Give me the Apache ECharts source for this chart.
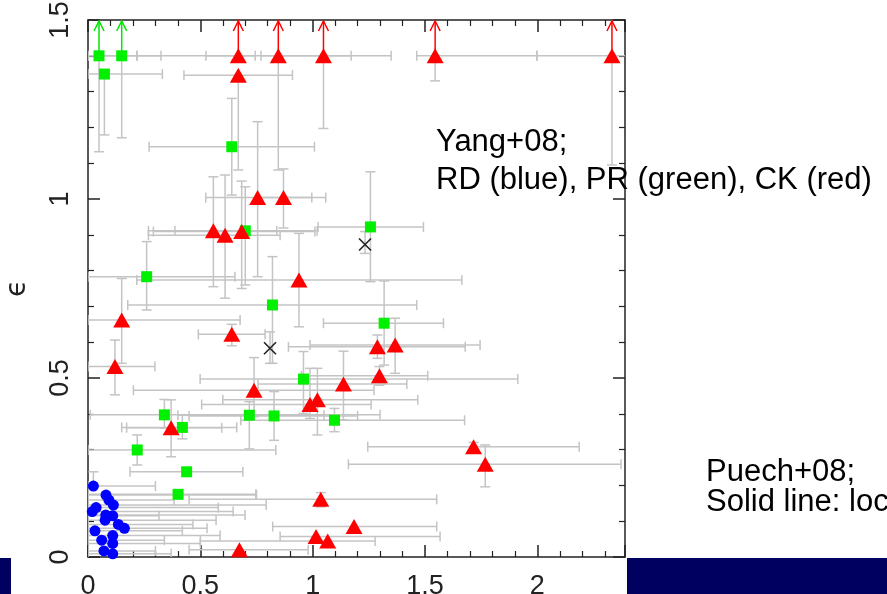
<!DOCTYPE html>
<html>
<head>
<meta charset="utf-8">
<script src="https://cdn.jsdelivr.net/npm/echarts@6/dist/echarts.min.js"></script>
<style>
  html, body { margin: 0; padding: 0; background: #ffffff; }
  #chart { width: 887px; height: 594px; }
</style>
</head>
<body>
<div id="chart"></div>
<script>
// Each row: [x, epsilon, xLow, xHigh, yLow, yHigh, lowerLimit]
// null = no error bar on that side; lowerLimit 1 = upward arrow.
const rdPoints = [
  [0.024, 0.198, 0.0, 0.30, null, 0.238, 0],
  [0.080, 0.173, 0.0, 0.75, null, null, 0],
  [0.093, 0.159, 0.0, 0.383, null, null, 0],
  [0.113, 0.145, 0.0, 0.793, null, null, 0],
  [0.036, 0.138, 0.0, 0.580, null, null, 0],
  [0.019, 0.127, 0.0, 0.646, null, null, 0],
  [0.079, 0.117, 0.0, 0.699, null, null, 0],
  [0.110, 0.115, 0.0, 0.316, null, null, 0],
  [0.076, 0.103, 0.0, 0.570, null, null, 0],
  [0.135, 0.091, 0.0, 0.467, null, null, 0],
  [0.162, 0.080, 0.0, 0.530, null, null, 0],
  [0.031, 0.073, 0.0, 0.420, null, null, 0],
  [0.110, 0.060, 0.0, 0.588, null, null, 0],
  [0.061, 0.047, 0.0, 0.340, null, null, 0],
  [0.110, 0.038, 0.0, 0.500, null, null, 0],
  [0.071, 0.017, 0.0, 0.300, null, null, 0],
  [0.110, 0.009, 0.0, 0.370, null, null, 0]
];

const prPoints = [
  [0.049, 1.400, 0.0, 0.218, 1.132, null, 1],
  [0.150, 1.400, 0.0, 0.325, 1.171, null, 1],
  [0.073, 1.349, 0.0, 0.331, 1.179, null, 0],
  [0.640, 1.146, 0.272, 1.008, 1.011, 1.281, 0],
  [0.700, 0.911, 0.269, 1.020, 0.760, 1.034, 0],
  [0.261, 0.783, 0.0, 0.654, 0.690, 0.881, 0],
  [1.257, 0.922, 1.024, 1.493, 0.769, 1.076, 0],
  [0.821, 0.704, 0.177, 1.463, 0.541, 0.839, 0],
  [0.959, 0.497, 0.499, 1.913, 0.401, 0.574, 0],
  [0.340, 0.397, 0.010, 1.300, 0.360, 0.440, 0],
  [0.420, 0.362, 0.150, 0.662, 0.330, 0.397, 0],
  [0.718, 0.396, 0.400, 1.050, 0.302, 0.434, 0],
  [0.828, 0.394, 0.450, 1.200, 0.326, 0.462, 0],
  [1.097, 0.382, 0.680, 1.676, 0.350, 0.415, 0],
  [1.318, 0.653, 1.048, 1.582, 0.536, 0.771, 0],
  [0.219, 0.299, 0.0, 0.836, 0.257, 0.341, 0],
  [0.439, 0.238, 0.187, 0.689, null, null, 0],
  [0.401, 0.175, 0.0, 0.747, null, null, 0]
];

const ckPoints = [
  [0.669, 1.400, 0.525, 0.744, null, null, 1],
  [0.847, 1.400, 0.770, 1.171, 1.081, null, 1],
  [1.048, 1.400, 0.218, 1.349, 1.197, null, 1],
  [1.545, 1.400, 1.463, 1.998, 1.330, null, 1],
  [2.332, 1.400, 1.998, 2.500, 1.095, null, 1],
  [0.669, 1.346, 0.427, 0.910, 1.081, null, 0],
  [0.755, 1.004, 0.524, 0.996, 0.783, 1.216, 0],
  [0.870, 1.004, 0.750, 1.058, 0.919, 1.084, 0],
  [0.558, 0.911, 0.387, 0.840, 0.755, 1.062, 0],
  [0.610, 0.899, 0.269, 0.855, 0.723, 1.067, 0],
  [0.684, 0.909, 0.291, 1.010, 0.750, 1.050, 0],
  [0.939, 0.774, 0.217, 1.664, 0.643, 0.904, 0],
  [0.150, 0.662, 0.0, 0.677, 0.541, 0.778, 0],
  [0.120, 0.532, 0.0, 0.298, 0.453, 0.606, 0],
  [0.640, 0.622, 0.491, 0.788, 0.590, 0.650, 0],
  [0.739, 0.466, 0.202, 1.273, 0.392, 0.557, 0],
  [0.370, 0.361, 0.172, 0.595, 0.280, 0.439, 0],
  [0.988, 0.426, 0.506, 1.260, 0.387, 0.527, 0],
  [1.021, 0.439, 0.600, 1.468, 0.341, 0.527, 0],
  [1.137, 0.483, 0.757, 1.419, 0.383, 0.575, 0],
  [1.288, 0.587, 0.892, 1.679, 0.555, 0.620, 0],
  [1.367, 0.592, 0.988, 1.745, 0.513, 0.667, 0],
  [1.297, 0.506, 0.950, 1.512, 0.480, 0.532, 0],
  [1.036, 0.161, 0.450, 1.552, 0.140, 0.180, 0],
  [1.184, 0.085, 0.822, 1.552, null, null, 0],
  [1.015, 0.057, 0.855, 1.567, null, null, 0],
  [1.067, 0.045, 0.500, 1.278, null, null, 0],
  [0.674, 0.020, 0.450, 0.980, null, null, 0],
  [1.716, 0.308, 1.245, 2.186, 0.290, 0.320, 0],
  [1.768, 0.259, 1.159, 2.372, 0.196, 0.313, 0]
];

const crossPoints = [
  [0.810, 0.583, null, null, 0.541, 0.629, 0],
  [1.233, 0.873, null, null, 0.848, 0.909, 0]
];

const xTicks = [0, 0.5, 1, 1.5, 2];
const yTicks = [0, 0.5, 1, 1.5];
const xRange = [0, 2.39];
const yRange = [0, 1.5];

function fmt(list) {
  return function (v) {
    const hit = list.some(function (t) { return Math.abs(t - v) < 1e-6; });
    return hit ? String(+v.toFixed(2)) : '';
  };
}

// Error bars with end caps
function errorBarItem(rows) {
  return function (params, api) {
    const r = rows[params.dataIndex];
    const ls = { stroke: '#c4c4c4', lineWidth: 1.5 };
    const kids = [];
    const cap = 5;
    if (r[2] !== null || r[3] !== null) {
      const a = api.coord([r[2] !== null ? r[2] : r[0], r[1]]);
      const b = api.coord([r[3] !== null ? r[3] : r[0], r[1]]);
      kids.push({ type: 'line', shape: { x1: a[0], y1: a[1], x2: b[0], y2: b[1] }, style: ls });
      if (r[2] !== null) kids.push({ type: 'line', shape: { x1: a[0], y1: a[1] - cap, x2: a[0], y2: a[1] + cap }, style: ls });
      if (r[3] !== null) kids.push({ type: 'line', shape: { x1: b[0], y1: b[1] - cap, x2: b[0], y2: b[1] + cap }, style: ls });
    }
    if (r[4] !== null || r[5] !== null) {
      const a = api.coord([r[0], r[4] !== null ? r[4] : r[1]]);
      const b = api.coord([r[0], r[5] !== null ? r[5] : r[1]]);
      kids.push({ type: 'line', shape: { x1: a[0], y1: a[1], x2: b[0], y2: b[1] }, style: ls });
      if (r[4] !== null) kids.push({ type: 'line', shape: { x1: a[0] - cap, y1: a[1], x2: a[0] + cap, y2: a[1] }, style: ls });
      if (r[5] !== null) kids.push({ type: 'line', shape: { x1: b[0] - cap, y1: b[1], x2: b[0] + cap, y2: b[1] }, style: ls });
    }
    return { type: 'group', children: kids };
  };
}

// Upward arrows for lower limits
function arrowItem(rows, color) {
  return function (params, api) {
    const r = rows[params.dataIndex];
    if (!r[6]) return { type: 'group', children: [] };
    const p = api.coord([r[0], r[1]]);
    const t = api.coord([r[0], yRange[1]]);
    const st = { stroke: color, lineWidth: 1.5, fill: null };
    return {
      type: 'group',
      children: [
        { type: 'line', shape: { x1: p[0], y1: p[1], x2: t[0], y2: t[1] + 1 }, style: st },
        { type: 'polyline', shape: { points: [[t[0] - 5, t[1] + 11], [t[0], t[1] + 1], [t[0] + 5, t[1] + 11]] }, style: st }
      ]
    };
  };
}

const chart = echarts.init(document.getElementById('chart'), null, { renderer: 'canvas' });

const axisCommon = {
  type: 'value',
  axisLine: { show: true, onZero: false, lineStyle: { color: '#222', width: 1.5 } },
  axisTick: { show: true, inside: true, length: 12, lineStyle: { color: '#222', width: 1.5 } },
  minorTick: { show: true, splitNumber: 5, length: 6, lineStyle: { color: '#222', width: 1.2 } },
  splitLine: { show: false },
  minorSplitLine: { show: false }
};
const labelFont = { fontFamily: 'Liberation Sans', fontSize: 27, color: '#222' };
const noteFont = '31px "Liberation Sans"';

function pts(rows) { return rows.map(function (r) { return [r[0], r[1]]; }); }

const option = {
  backgroundColor: '#ffffff',
  animation: false,
  grid: { left: 88, top: 20, width: 537, height: 537, containLabel: false, outerBoundsMode: 'none' },
  xAxis: [
    Object.assign({}, axisCommon, {
      position: 'bottom', min: xRange[0], max: xRange[1], interval: 0.5,
      axisLabel: Object.assign({ margin: 16, formatter: fmt(xTicks), showMaxLabel: true }, labelFont)
    }),
    Object.assign({}, axisCommon, {
      position: 'top', min: xRange[0], max: xRange[1], interval: 0.5,
      axisLabel: { show: false }
    })
  ],
  yAxis: [
    Object.assign({}, axisCommon, {
      position: 'left', min: yRange[0], max: yRange[1], interval: 0.5,
      name: 'ϵ', nameLocation: 'middle', nameGap: 56, nameRotate: 90,
      nameTextStyle: { fontFamily: 'DejaVu Sans', fontSize: 28, color: '#222' },
      axisLabel: Object.assign({ margin: 14, rotate: 90, formatter: fmt(yTicks) }, labelFont)
    }),
    Object.assign({}, axisCommon, {
      position: 'right', min: yRange[0], max: yRange[1], interval: 0.5,
      axisLabel: { show: false }
    })
  ],
  series: [
    { type: 'custom', name: 'errRD', data: pts(rdPoints), renderItem: errorBarItem(rdPoints), clip: true, z: 1, silent: true },
    { type: 'custom', name: 'errPR', data: pts(prPoints), renderItem: errorBarItem(prPoints), clip: true, z: 1, silent: true },
    { type: 'custom', name: 'errCK', data: pts(ckPoints), renderItem: errorBarItem(ckPoints), clip: true, z: 1, silent: true },
    { type: 'custom', name: 'errX', data: pts(crossPoints), renderItem: errorBarItem(crossPoints), clip: true, z: 1, silent: true },
    { type: 'custom', name: 'limPR', data: pts(prPoints), renderItem: arrowItem(prPoints, '#00e600'), clip: false, z: 2, silent: true },
    { type: 'custom', name: 'limCK', data: pts(ckPoints), renderItem: arrowItem(ckPoints, '#ff0000'), clip: false, z: 2, silent: true },
    { type: 'scatter', name: 'RD', data: pts(rdPoints), symbol: 'circle', symbolSize: 11, itemStyle: { color: '#0000ff', opacity: 1 }, z: 3 },
    { type: 'scatter', name: 'PR', data: pts(prPoints), symbol: 'rect', symbolSize: 11, itemStyle: { color: '#00f000', opacity: 1 }, z: 3 },
    { type: 'scatter', name: 'CK', data: pts(ckPoints), symbol: 'triangle', symbolSize: [17, 15], itemStyle: { color: '#ff0000', opacity: 1 }, z: 3 },
    { type: 'scatter', name: 'X', data: pts(crossPoints), symbol: 'path://M0 0L10 10M10 0L0 10', symbolSize: 12, itemStyle: { color: 'rgba(0,0,0,0)', borderColor: '#222', borderWidth: 1.6, opacity: 1 }, z: 3 }
  ],
  graphic: [
    { type: 'rect', left: 0, top: 558, shape: { width: 11, height: 36 }, style: { fill: '#000060' }, z: 10 },
    { type: 'rect', left: 627, top: 558, shape: { width: 260, height: 36 }, style: { fill: '#000060' }, z: 10 },
    { type: 'text', x: 436, y: 142, style: { text: 'Yang+08;', font: noteFont, fill: '#000', textVerticalAlign: 'middle' }, z: 10 },
    { type: 'text', x: 436, y: 180, style: { text: 'RD (blue), PR (green), CK (red)', font: noteFont, fill: '#000', textVerticalAlign: 'middle' }, z: 10 },
    { type: 'text', x: 706, y: 472, style: { text: 'Puech+08;', font: noteFont, fill: '#000', textVerticalAlign: 'middle' }, z: 10 },
    { type: 'text', x: 706, y: 502, style: { text: 'Solid line: loc', font: noteFont, fill: '#000', textVerticalAlign: 'middle' }, z: 10 }
  ]
};

chart.setOption(option);
</script>
</body>
</html>
